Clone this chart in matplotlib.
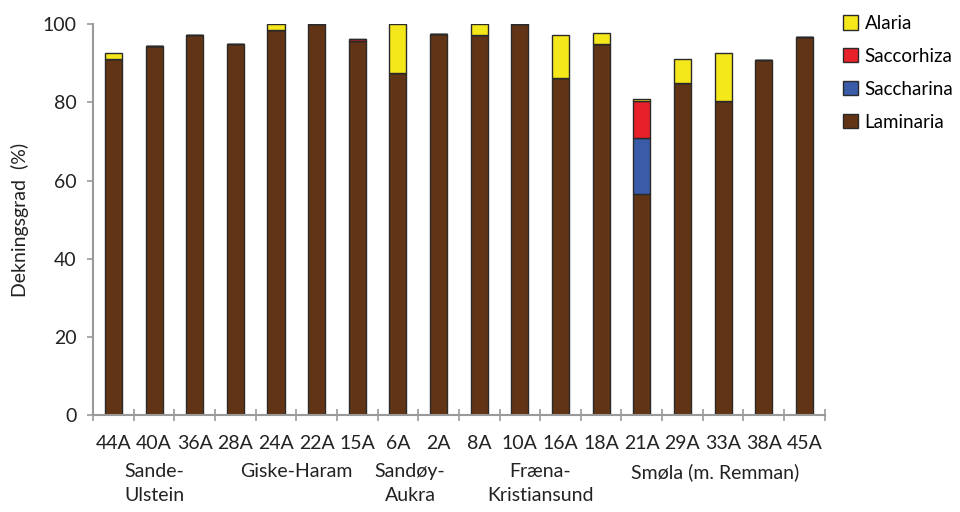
import matplotlib
matplotlib.use("Agg")
import matplotlib.pyplot as plt
import numpy as np

stations = ["44A", "40A", "36A", "28A", "24A", "22A", "15A", "6A", "2A",
            "8A", "10A", "16A", "18A", "21A", "29A", "33A", "38A", "45A"]
laminaria = [91.0, 94.4, 97.2, 95.0, 98.5, 100.0, 95.6, 87.5, 97.4,
             97.1, 100.0, 86.1, 95.0, 56.5, 85.0, 80.3, 90.8, 96.7]
saccharina = [0, 0, 0, 0, 0, 0, 0, 0, 0, 0, 0, 0, 0, 14.3, 0, 0, 0, 0]
saccorhiza = [0, 0, 0, 0, 0, 0, 0.5, 0, 0, 0, 0, 0, 0, 9.5, 0, 0, 0, 0]
alaria = [1.5, 0, 0, 0, 1.5, 0, 0, 12.5, 0, 2.9, 0, 11.0, 2.8, 0.5, 6.1, 12.2, 0, 0]

regions = ["Sande-\nUlstein", "Giske-Haram", "Sandøy-\nAukra",
           "Fræna-\nKristiansund", "Smøla (m. Remman)"]
region_pos = [1.0, 4.5, 7.3, 10.5, 14.8]

species = ["Alaria", "Saccorhiza", "Saccharina", "Laminaria"]
colors = {"Laminaria": "#623416", "Saccharina": "#3A5BA8",
          "Saccorhiza": "#E8202A", "Alaria": "#F5E81A"}

plt.rcParams["font.family"] = ["Lato", "DejaVu Sans"]

fig = plt.figure(figsize=(9.6, 5.12), dpi=100)
ax = fig.add_axes([0.097, 0.189, 0.762, 0.764])

x = np.arange(len(stations))
w = 0.42
bottom = np.zeros(len(stations))
handles = {}
for name, vals in [("Laminaria", laminaria), ("Saccharina", saccharina),
                   ("Saccorhiza", saccorhiza), ("Alaria", alaria)]:
    vals = np.array(vals)
    b = ax.bar(x, vals, w, bottom=bottom, color=colors[name],
               edgecolor="#2a2a2a", linewidth=1.0)
    handles[name] = b
    bottom += vals

ax.set_xlim(-0.5, len(stations) - 0.5)
ax.set_ylim(0, 100)
ax.set_yticks([0, 20, 40, 60, 80, 100])
ax.tick_params(axis="y", labelsize=14, colors="#9a9a9a", labelcolor="#222222",
               length=4, width=1.2, direction="out", pad=8)
ax.set_xticks(x)
ax.set_xticklabels(stations, fontsize=14, color="#222222")
ax.tick_params(axis="x", length=0, pad=14)
# boundary tick marks between stations
ax.set_xticks(np.arange(-0.5, len(stations), 1.0), minor=True)
ax.tick_params(axis="x", which="minor", length=8, width=1.2, color="#9a9a9a",
               direction="inout")

for s in ["top", "right"]:
    ax.spines[s].set_visible(False)
for s in ["left", "bottom"]:
    ax.spines[s].set_color("#9a9a9a")
    ax.spines[s].set_linewidth(1.5)

ax.set_ylabel("Dekningsgrad  (%)", fontsize=14, color="#222222", labelpad=10)

for lab, pos in zip(regions, region_pos):
    ax.text(pos, -12.3, lab, ha="center", va="top", fontsize=14,
            color="#222222", transform=ax.transData, linespacing=1.5)

leg = fig.legend([handles[n] for n in species], species,
                 loc="upper left", bbox_to_anchor=(0.878, 0.971),
                 frameon=False, fontsize=13.5, handlelength=0.8,
                 handleheight=0.8, handletextpad=0.35, labelspacing=0.85,
                 borderpad=0, borderaxespad=0)

fig.savefig("out.png", dpi=100)
